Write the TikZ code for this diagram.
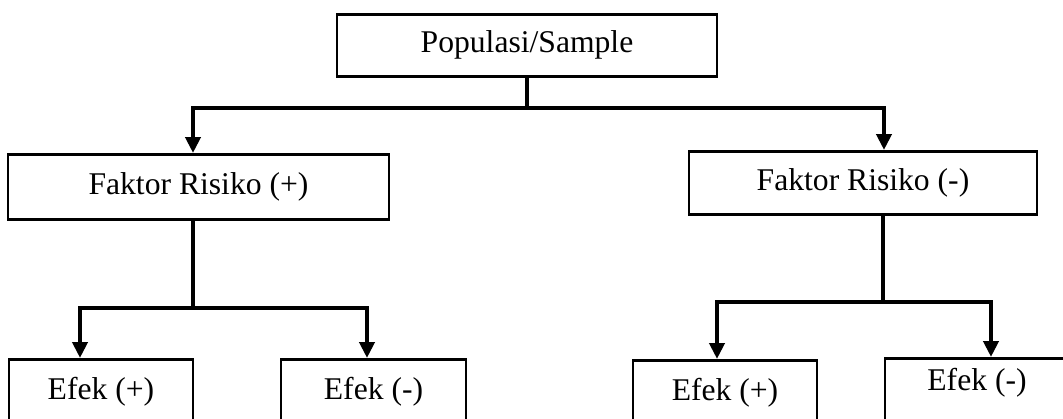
\documentclass[tikz,border=0pt]{standalone}
\usepackage{fontspec}
\setmainfont{Liberation Serif}
\usepackage{tikz}
\usetikzlibrary{arrows.meta,positioning,calc}
\tikzset{
  block/.style={draw,line width=1.5pt,inner sep=0pt,minimum height=12.8mm,
    font=\fontsize{18}{22}\selectfont,fill=white},
  conn/.style={line width=2.5pt,draw=black},
  arr/.style={-{Triangle[width=3mm,length=3.2mm]},line width=2.5pt,draw=black}
}

\begin{document}
\begin{tikzpicture}[x=0.02cm,y=-0.02cm]
\useasboundingbox (0,0) rectangle (1063,419);
\clip (0,0) rectangle (1063,419);
% boxes
\node[block,anchor=north,minimum width=76mm,minimum height=12.4mm] (pop) at (527,13) {Populasi/Sample};
\node[block,anchor=north,minimum width=76.2mm,minimum height=13mm] (fplus) at (198.5,153) {Faktor Risiko (+)};
\node[block,anchor=north,minimum width=69.6mm,minimum height=12.6mm] (fminus) at (863,150) {Faktor Risiko (-)};
\node[block,anchor=north,minimum width=36.8mm] (eplusL) at (101,358) {Efek (+)};
\node[block,anchor=north,minimum width=37mm] (eminusL) at (373.5,358) {Efek (-)};
\node[block,anchor=north,minimum width=36.8mm] (eplusR) at (725,359) {Efek (+)};
\node[block,anchor=north,minimum width=36.8mm,text depth=4.2mm] (eminusR) at (977,357) {Efek (-)};
% bus lines
\coordinate (busTop) at (0,108);
\coordinate (busL) at (0,308);
\coordinate (busR) at (0,302);
\draw[conn] (pop.south) -- (pop.south |- busTop);
\draw[arr] (pop.south |- busTop) -| ([xshift=-1.1mm]fplus.north);
\draw[arr] (pop.south |- busTop) -| ([xshift=4.2mm]fminus.north);
\draw[conn] ([xshift=-1.1mm]fplus.south) -- ([xshift=-1.1mm]fplus.south |- busL);
\draw[arr] ([xshift=-1.1mm]fplus.south |- busL) -| ([xshift=-4.2mm]eplusL.north);
\draw[arr] ([xshift=-1.1mm]fplus.south |- busL) -| ([xshift=-1.3mm]eminusL.north);
\draw[conn] ([xshift=4mm]fminus.south) -- ([xshift=4mm]fminus.south |- busR);
\draw[arr] ([xshift=4mm]fminus.south |- busR) -| ([xshift=-1.6mm]eplusR.north);
\draw[arr] ([xshift=4mm]fminus.south |- busR) -| ([xshift=2.8mm]eminusR.north);
\end{tikzpicture}
\end{document}
